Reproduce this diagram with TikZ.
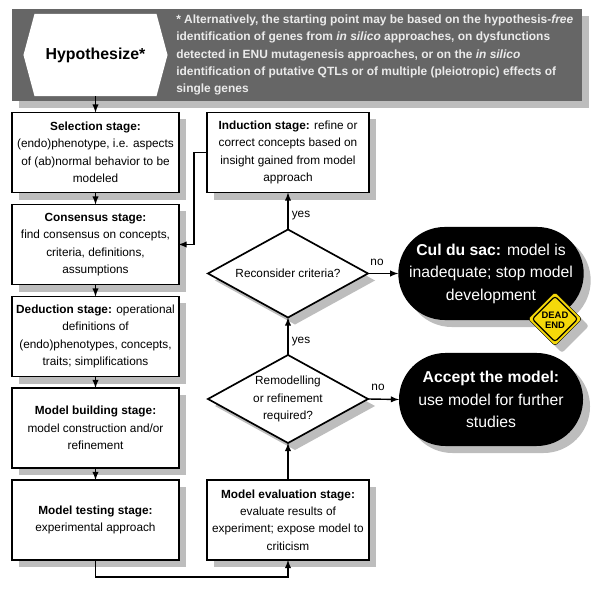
\documentclass[tikz,border=0pt]{standalone}
\usepackage{fontspec}
\setmainfont{Liberation Sans}
\usetikzlibrary{shapes.geometric,shapes.misc,shapes.symbols,shadows}
\definecolor{shadowgrey}{HTML}{BDBDBD}
\definecolor{bandgrey}{HTML}{666666}
\definecolor{signyellow}{HTML}{F5D90A}
\tikzset{
	boxshadow/.style={general shadow={shadow xshift=0.175cm,shadow yshift=-0.175cm,fill=shadowgrey}},
	stagebox/.style={rectangle,draw=black,line width=1.4pt,fill=white,boxshadow,align=center,inner sep=0pt,outer sep=0pt,minimum width=4.15cm,minimum height=2cm,font=\fontsize{8.4}{12.4}\selectfont},
	choice/.style={diamond,draw=black,line width=1.2pt,fill=white,boxshadow,inner sep=0pt,outer sep=0pt,minimum width=4cm,minimum height=2.2cm},
	choicetext/.style={align=center,inner sep=0pt,font=\fontsize{8.4}{12.4}\selectfont},
	endpill/.style={rounded rectangle,fill=black,text=white,boxshadow,align=center,inner sep=0pt,outer sep=0pt,minimum width=4.6cm,minimum height=2.325cm,font=\fontsize{11.2}{16}\selectfont},
	answer/.style={inner sep=0pt,font=\fontsize{8.4}{10}\selectfont},
	flow/.style={-latex,line width=1pt}
}
\begin{document}
\begin{tikzpicture}[x=0.025cm,y=-0.025cm]
	\useasboundingbox (0,0) rectangle (600,589);
	% top band
	\node[rectangle,fill=bandgrey,boxshadow,minimum width=14.25cm,minimum height=2.3cm,inner sep=0pt,outer sep=0pt] (band) at (297,55) {};
	\node[signal,signal to=west and east,signal pointer angle=150,fill=white,minimum width=3.6cm,minimum height=2.05cm,inner sep=0pt,outer sep=0pt,font=\fontsize{11.3}{13}\selectfont\bfseries] (hyp) at (95.5,55) {Hypothesize*};
	\node[anchor=west,align=left,inner sep=0pt,text=white!92!black,font=\fontsize{8.5}{12.4}\selectfont\bfseries] (note) at (176,55) {* Alternatively, the starting point may be based on the hypothesis-\textit{free}\\identification of genes from \textit{in silico} approaches, on dysfunctions\\detected in ENU mutagenesis approaches, or on the \textit{in silico}\\identification of putative QTLs or of multiple (pleiotropic) effects of\\single genes};
	% left column
	\node[stagebox] (selection) at (95.5,152.5) {\textbf{Selection stage:}\\(endo)phenotype, i.e. aspects\\of (ab)normal behavior to be\\modeled};
	\node[stagebox] (consensus) at (95.5,244.5) {\textbf{Consensus stage:}\\find consensus on concepts,\\criteria, definitions,\\assumptions};
	\node[stagebox] (deduction) at (95.5,336.5) {\textbf{Deduction stage:} operational\\definitions of\\(endo)phenotypes, concepts,\\traits; simplifications};
	\node[stagebox] (building) at (95.5,428) {\textbf{Model building stage:}\\model construction and/or\\refinement};
	\node[stagebox] (testing) at (95.5,520) {\textbf{Model testing stage:}\\experimental approach};
	% right column
	\node[stagebox,minimum width=4.05cm] (induction) at (288,152.5) {\textbf{Induction stage:} refine or\\correct concepts based on\\insight gained from model\\approach};
	\node[stagebox,minimum width=4.05cm] (evaluation) at (288,520) {\textbf{Model evaluation stage:}\\evaluate results of\\experiment; expose model to\\criticism};
	\node[choice] (reconsider) at (288,273.5) {};
	\node[choicetext] (reconsidertext) at (288,273.5) {Reconsider criteria?};
	\node[choice] (remodel) at (288,399) {};
	\node[choicetext] (remodeltext) at (288,399) {Remodelling\\or refinement\\required?};
	% end points
	\node[endpill] (culdusac) at (491,273.5) {\textbf{Cul du sac:} model is\\inadequate; stop model\\development};
	\node[endpill] (accept) at (491,399.5) {\textbf{Accept the model:}\\use model for further\\studies};
	% sign
	\node[diamond,rounded corners=2pt,draw=black,line width=0.3pt,fill=signyellow,boxshadow,inner sep=0pt,minimum width=1.35cm,minimum height=1.35cm] (sign) at (555,319) {};
	\node[diamond,rounded corners=2pt,draw=black,line width=0.8pt,inner sep=0pt,minimum width=1.15cm,minimum height=1.15cm] (signinner) at (555,319) {};
	\node[align=center,inner sep=0pt,font=\fontsize{6.7}{7.1}\selectfont\bfseries] (signtext) at (555,320) {DEAD\\END};
	% connectors
	\draw[flow] (hyp.south) -- (selection.north);
	\draw[flow] (selection.south) -- (consensus.north);
	\draw[flow] (consensus.south) -- (deduction.north);
	\draw[flow] (deduction.south) -- (building.north);
	\draw[flow] (building.south) -- (testing.north);
	\draw[flow] (testing.south) -- ++(0,17) -| (evaluation.south);
	\draw[flow] (evaluation.north) -- (remodel.south);
	\draw[flow] (remodel.north) -- (reconsider.south);
	\draw[flow] (reconsider.north) -- (induction.south);
	\draw[flow] (induction.west) -- ++(-13,0) |- (consensus.east);
	\draw[flow] (reconsider.east) -- (culdusac.west);
	\draw[flow] (remodel.east) -- (accept.west);
	% answers
	\node[answer] (yesa) at (301,216) {yes};
	\node[answer] (yesb) at (301,342) {yes};
	\node[answer] (noa) at (377,262) {no};
	\node[answer] (nob) at (378,387) {no};
\end{tikzpicture}
\end{document}
